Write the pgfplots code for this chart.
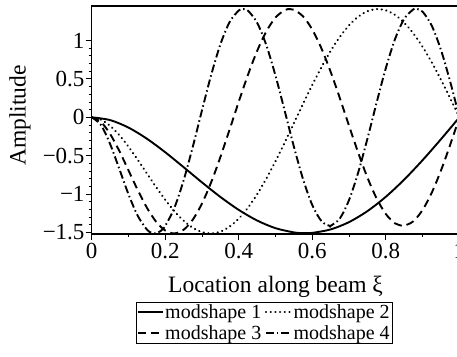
\documentclass[border=0pt]{standalone}
\usepackage{fontspec}
\setmainfont{Liberation Serif}
\usepackage{pgfplots}
\pgfplotsset{compat=1.18}
\begin{document}
\begin{tikzpicture}
\begin{axis}[
  scale only axis, width=367.7pt, height=228pt,
  at={(0pt,0pt)}, anchor=south west,
  xmin=0, xmax=1, ymin=-1.52, ymax=1.45,
  tick pos=left, tick align=outside,
  major tick length=6pt, minor tick length=3pt,
  minor x tick num=1, minor y tick num=4,
  xtick={0,0.2,0.4,0.6,0.8,1}, xticklabels={0,0.2,0.4,0.6,0.8,1},
  ytick={-1.5,-1,-0.5,0,0.5,1}, yticklabels={−1.5,−1,−0.5,0,0.5,1},
  tick label style={font=\fontsize{23}{26}\selectfont},
  xticklabel style={inner sep=3pt},
  yticklabel style={inner sep=1pt},
  every tick/.style={black, line width=0.9pt},
  axis line style={line width=1.1pt},
  xlabel={Location along beam ξ}, ylabel={Amplitude},
  label style={font=\fontsize{23.5}{27}\selectfont},
  xlabel style={at={(axis description cs:0.5,-0.256)}, anchor=base},
  ylabel style={at={(axis description cs:-0.195,0.52)}, anchor=center},
  legend columns=2,
  legend style={at={(axis description cs:0.4686,-0.298)}, anchor=north,
    draw=black, inner sep=1pt, row sep=2.5pt,
    nodes={inner sep=1.5pt},
    font=\fontsize{20}{22}\selectfont,
    /tikz/every even column/.append style={column sep=2pt}},
  legend image code/.code={\draw[#1] (0pt,0.2pt) -- (25pt,0.2pt);},
  legend cell align=left,
]
\addplot[black, line width=1.9pt, smooth] coordinates {
(0,0)(0.05,-0.0359)(0.1,-0.1337)(0.15,-0.2785)(0.2,-0.4552)(0.25,-0.6496)(0.3,-0.8480)(0.35,-1.0373)(0.4,-1.2062)(0.45,-1.3446)(0.5,-1.4443)(0.55,-1.4991)(0.575,-1.5084)(0.6,-1.5050)(0.65,-1.4601)(0.7,-1.3647)(0.75,-1.2213)(0.8,-1.0345)(0.85,-0.8106)(0.9,-0.5574)(0.95,-0.2841)(1,0)};
\addlegendentry{modshape 1}
\addplot[black, line width=2.3pt, smooth, line cap=round, dash pattern=on 0.1pt off 4.6pt] coordinates {
(0,0)(0.025,-0.0295)(0.05,-0.1102)(0.075,-0.2314)(0.1,-0.3822)(0.125,-0.5519)(0.15,-0.7303)(0.175,-0.9075)(0.2,-1.0745)(0.225,-1.2236)(0.25,-1.3467)(0.275,-1.4389)(0.3,-1.4952)(0.325,-1.5124)(0.35,-1.4887)(0.375,-1.4239)(0.4,-1.3193)(0.425,-1.1772)(0.45,-1.0016)(0.475,-0.7975)(0.5,-0.5704)(0.525,-0.3276)(0.55,-0.0760)(0.575,0.1766)(0.6,0.4226)(0.625,0.6546)(0.65,0.8657)(0.675,1.0488)(0.7,1.1987)(0.725,1.3109)(0.75,1.3820)(0.775,1.4097)(0.8,1.3933)(0.825,1.3333)(0.85,1.2314)(0.875,1.0911)(0.9,0.9167)(0.925,0.7138)(0.95,0.4883)(0.975,0.2476)(1,0)};
\addlegendentry{modshape 2}
\addplot[black, line width=1.9pt, smooth, dash pattern=on 8pt off 5pt] coordinates {
(0,0)(0.025,-0.0595)(0.05,-0.2163)(0.075,-0.4372)(0.1,-0.6903)(0.125,-0.9458)(0.15,-1.1762)(0.175,-1.3587)(0.2,-1.4748)(0.225,-1.5124)(0.25,-1.4649)(0.275,-1.3327)(0.3,-1.1221)(0.325,-0.8447)(0.35,-0.5176)(0.375,-0.1603)(0.4,0.2044)(0.425,0.5537)(0.45,0.8657)(0.475,1.1198)(0.5,1.3005)(0.525,1.3962)(0.5385,1.4101)(0.55,1.4008)(0.575,1.3141)(0.6,1.1419)(0.625,0.8955)(0.65,0.5908)(0.675,0.2476)(0.7,-0.1118)(0.725,-0.4639)(0.75,-0.7862)(0.775,-1.0577)(0.8,-1.2604)(0.825,-1.3816)(0.8462,-1.4144)(0.85,-1.4133)(0.875,-1.3534)(0.9,-1.2059)(0.925,-0.9801)(0.95,-0.6910)(0.975,-0.3571)(1,0)};
\addlegendentry{modshape 3}
\addplot[black, line width=1.9pt, smooth, dash pattern=on 8pt off 3pt on 1.5pt off 3pt] coordinates {
(0,0)(0.025,-0.0990)(0.05,-0.3467)(0.075,-0.6705)(0.1,-1.0020)(0.125,-1.2816)(0.15,-1.4618)(0.1625,-1.5039)(0.175,-1.5106)(0.1875,-1.4807)(0.2,-1.4142)(0.225,-1.1772)(0.25,-0.8212)(0.275,-0.3825)(0.3,0.0928)(0.325,0.5537)(0.35,0.9507)(0.375,1.2405)(0.4,1.3920)(0.4118,1.4101)(0.425,1.3888)(0.45,1.2314)(0.475,0.9380)(0.5,0.5399)(0.525,0.0823)(0.55,-0.3846)(0.575,-0.8090)(0.6,-1.1445)(0.625,-1.3536)(0.6471,-1.4144)(0.65,-1.4133)(0.675,-1.3170)(0.7,-1.0755)(0.725,-0.7152)(0.75,-0.2759)(0.775,0.1938)(0.8,0.6420)(0.825,1.0197)(0.85,1.2843)(0.875,1.4074)(0.8824,1.4142)(0.9,1.3752)(0.925,1.1912)(0.95,0.8758)(0.975,0.4633)(1,0)};
\addlegendentry{modshape 4}
\end{axis}
\pgfresetboundingbox
\path (-91.7pt,-122pt) rectangle (365.3pt,234pt);
\end{tikzpicture}
\end{document}
